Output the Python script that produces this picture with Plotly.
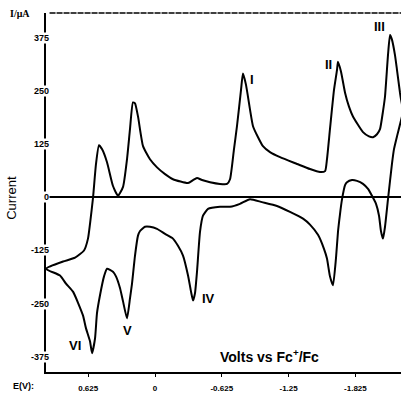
import plotly.graph_objects as go

# Cyclic voltammogram (volts vs Fc+/Fc, current in uA)
volts = [
    1.020, 0.861, 0.748, 0.664, 0.627, 0.608, 0.580, 0.552, 0.524, 0.496,
    0.449, 0.393, 0.346, 0.299, 0.262, 0.234, 0.206, 0.187, 0.159, 0.112,
    0.047, -0.019, -0.094, -0.168, -0.309, -0.356, -0.393, -0.440, -0.515, -0.608,
    -0.674, -0.702, -0.739, -0.767, -0.805, -0.823, -0.851, -0.889, -0.917, -0.964,
    -1.010, -1.076, -1.170, -1.329, -1.450, -1.544, -1.591, -1.609, -1.637, -1.675,
    -1.703, -1.712, -1.740, -1.778, -1.815, -1.852, -1.946, -2.002, -2.040, -2.077,
    -2.105, -2.133, -2.152, -2.180, -2.199, -2.217, -2.245, -2.264, -2.292, -2.302,
    -2.320,
    -2.292, -2.264, -2.236, -2.217, -2.180, -2.152, -2.133, -2.114, -2.096, -2.068,
    -2.030, -1.993, -1.946, -1.890, -1.843, -1.796, -1.778, -1.750, -1.731, -1.712,
    -1.693, -1.665, -1.637, -1.609, -1.581, -1.525, -1.450, -1.385, -1.263, -1.141,
    -1.001, -0.889, -0.795, -0.702, -0.608, -0.496, -0.449, -0.421, -0.393, -0.374,
    -0.356, -0.337, -0.309, -0.262, -0.215, -0.168, -0.094, -0.019, 0.047, 0.094,
    0.140, 0.159, 0.187, 0.215, 0.234, 0.262, 0.299, 0.327, 0.365, 0.393,
    0.449, 0.477, 0.515, 0.543, 0.561, 0.589, 0.608, 0.646, 0.674, 0.767,
    0.833, 0.889, 1.020,
]
current = [
    -168, -151, -142, -125, -97, -62, -1, 79, 123, 114,
    83, 27, 4, 25, 90, 161, 224, 222, 191, 121,
    90, 71, 55, 43, 34, 41, 46, 41, 36, 32,
    32, 43, 114, 168, 254, 292, 266, 207, 168, 142,
    121, 107, 95, 79, 67, 60, 62, 90, 161, 254,
    301, 320, 297, 247, 214, 191, 154, 144, 142, 149,
    161, 203, 238, 336, 383, 372, 336, 301, 247, 231,
    203,
    172, 144, 114, 79, -4, -69, -97, -79, -43, -15,
    4, 20, 32, 39, 41, 36, 29, -4, -39, -81,
    -144, -207, -186, -144, -121, -88, -64, -50, -34, -20,
    -11, -4, -15, -22, -22, -27, -43, -81, -175, -226,
    -243, -222, -184, -137, -114, -97, -86, -74, -69, -69,
    -79, -90, -137, -203, -238, -285, -245, -214, -186, -175,
    -168, -186, -231, -273, -332, -367, -339, -308, -278, -222,
    -203, -184, -168,
]

x_tick_vals = [0.625, 0, -0.625, -1.25, -1.875]
x_tick_text = ["0.625", "0", "-0.625", "-1.25", "-1.825"]
y_tick_vals = [375, 250, 125, 0, -125, -250, -375]
y_tick_text = ["375", "250", "125", "0", "-125", "-250", "-375"]

peak_names = ["I", "II", "III", "IV", "V", "VI"]
peak_label_x = [-0.908, -1.619, -2.105, -0.496, 0.262, 0.748]
peak_label_y = [278, 313, 404, -238, -313, -350]

fig = go.Figure()
fig.add_trace(go.Scatter(
    x=volts, y=current, mode="lines",
    line=dict(color="black", width=2, shape="spline", smoothing=0.5),
    hoverinfo="skip", showlegend=False,
))

font_family = "Liberation Sans, Arial, sans-serif"

fig.update_layout(
    width=401, height=393,
    margin=dict(l=46, r=0, t=13, b=19),
    paper_bgcolor="white", plot_bgcolor="white",
    showlegend=False,
    xaxis=dict(
        range=[1.0198, -2.3016], showgrid=False, zeroline=False,
        showline=True, linecolor="black", linewidth=1.5,
        ticks="outside", ticklen=3, tickwidth=1, tickcolor="black",
        tickvals=x_tick_vals, ticktext=x_tick_text, ticklabelstandoff=5,
        tickfont=dict(family=font_family, size=8, color="black", weight="bold"),
    ),
    yaxis=dict(
        range=[-411.4, 434.8], showgrid=False,
        zeroline=True, zerolinecolor="black", zerolinewidth=1.5,
        showline=True, linecolor="black", linewidth=1.5,
        showticklabels=False, ticks="",
    ),
)

# y tick labels sit on the axis line (the line is broken by them)
for v, t in zip(y_tick_vals, y_tick_text):
    fig.add_annotation(
        x=0.012, xref="paper", y=v, yref="y", text=t, showarrow=False,
        xanchor="right", yanchor="middle", bgcolor="white", borderpad=0,
        font=dict(family=font_family, size=9, color="black", weight="bold"),
    )

# dashed top frame line
fig.add_shape(type="line", xref="paper", yref="paper", x0=0.01, x1=1, y0=1, y1=1,
              line=dict(color="black", width=1.5, dash="6px,1px"))

for name, px, py in zip(peak_names, peak_label_x, peak_label_y):
    fig.add_annotation(x=px, y=py, text=name, showarrow=False, xanchor="center",
                       font=dict(family=font_family, size=13, color="black", weight="bold"))

fig.add_annotation(x=-0.073, xref="paper", y=1.0, yref="paper", text="I/μA",
                   showarrow=False, xanchor="center", yanchor="middle",
                   font=dict(family="Liberation Serif, serif", size=10, color="black", weight="bold"))
fig.add_annotation(x=-0.096, xref="paper", y=0.485, yref="paper", text="Current",
                   textangle=-90, showarrow=False, xanchor="center", yanchor="middle",
                   font=dict(family=font_family, size=13, color="black"))
fig.add_annotation(x=0.63, xref="paper", y=0.045, yref="paper",
                   text="Volts vs Fc<sup>+</sup>/Fc", showarrow=False,
                   xanchor="center", yanchor="middle",
                   font=dict(family=font_family, size=14, color="black", weight="bold"))
fig.add_annotation(x=-0.062, xref="paper", y=-0.04, yref="paper", text="E(V):",
                   showarrow=False, xanchor="center", yanchor="middle",
                   font=dict(family=font_family, size=9, color="black", weight="bold"))

fig.write_html("out.html")
